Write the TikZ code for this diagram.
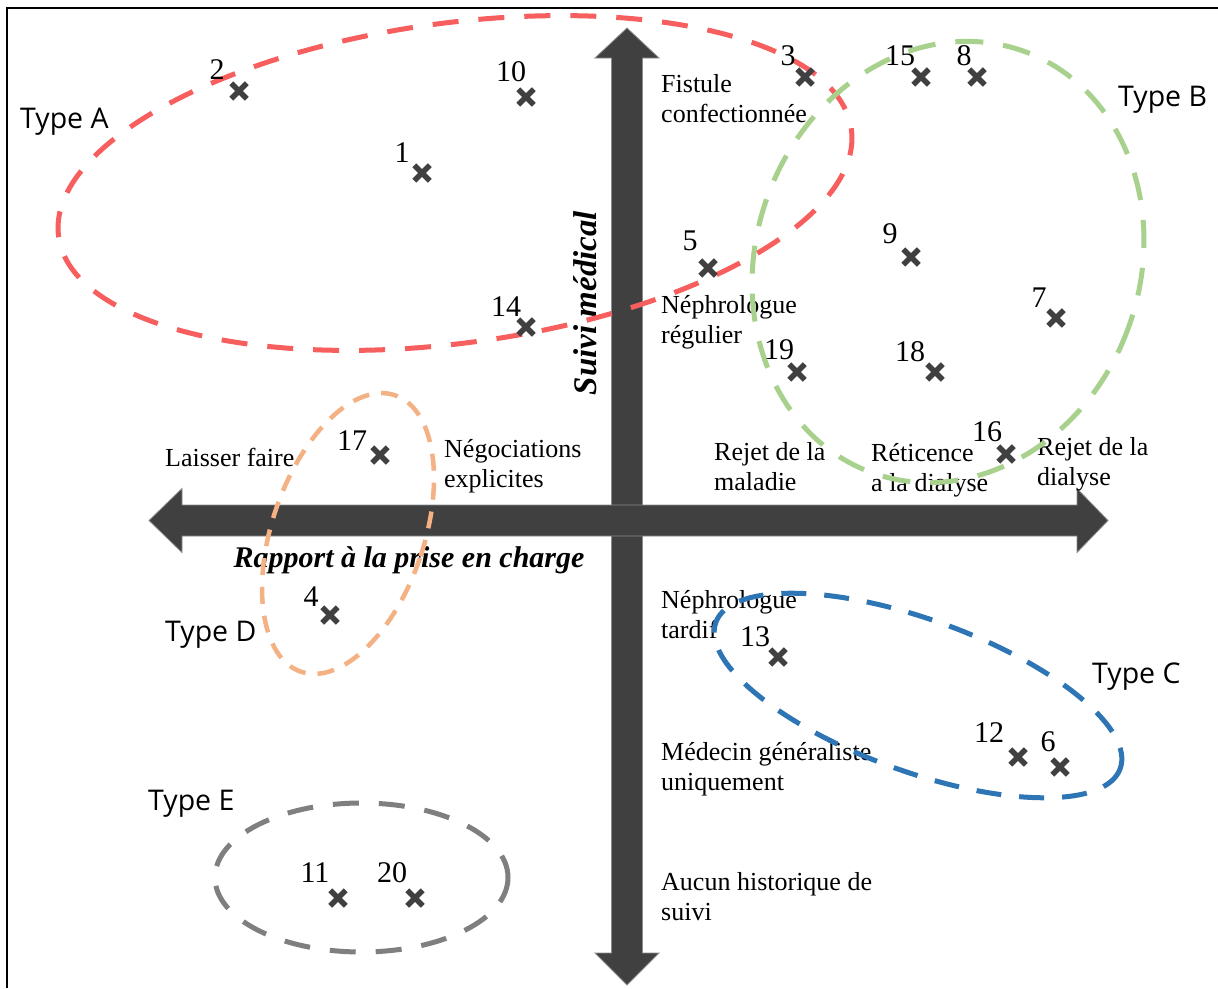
\documentclass[tikz,border=0pt]{standalone}
\usepackage{fontspec}
\setmainfont{Liberation Serif}
\newfontfamily\typefont{Open Sans}
\usetikzlibrary{shapes.misc}
\definecolor{axisgray}{HTML}{404040}
\definecolor{axisedge}{HTML}{8C8C8C}
\definecolor{redA}{HTML}{F75F5F}
\definecolor{greenB}{HTML}{A9D18E}
\definecolor{blueC}{HTML}{2E75B6}
\definecolor{orangeD}{HTML}{F4B183}
\definecolor{grayE}{HTML}{7F7F7F}
\begin{document}
\begin{tikzpicture}[x=1pt,y=-1pt,
 ptmark/.style={cross out, draw=axisgray, line width=5.5pt, minimum size=10pt, inner sep=0pt},
 num/.style={font=\fontsize{30}{36}\selectfont, inner sep=0pt},
 lbl/.style={font=\fontsize{26}{30.5}\selectfont, align=left, anchor=north west, inner sep=0pt},
 typ/.style={font=\typefont\fontsize{28.5}{34}\selectfont, anchor=north west, inner sep=0pt},
 axlbl/.style={font=\bfseries\itshape\fontsize{30}{36}\selectfont, inner sep=0pt},
 grp/.style={line width=5pt, dash pattern=on 26pt off 20pt},
 axisshape/.style={fill=axisgray, draw=axisedge, line width=0.8pt}]
\useasboundingbox (0,0) rectangle (1218,988);
\fill[white] (0,0) rectangle (1218,988);
% frame
\draw[line width=2.5pt] (7,988) -- (7,8) -- (1218,8);
% axes
\coordinate (vtop) at (627,28);
\coordinate (vbot) at (627,985);
\coordinate (hleft) at (149,520.5);
\coordinate (hright) at (1108,520.5);
\draw[axisshape] (vtop) -- (659,58) -- (642.5,58) -- (642.5,953) -- (659,953) -- (vbot)
  -- (595,953) -- (611.5,953) -- (611.5,58) -- (595,58) -- cycle;
\draw[axisshape] (hleft) -- (182,488.5) -- (182,505) -- (1077,505) -- (1077,488.5) -- (hright)
  -- (1077,552.5) -- (1077,536) -- (182,536) -- (182,552.5) -- cycle;
% axis labels
\node[axlbl, rotate=90, font=\bfseries\itshape\fontsize{33}{38}\selectfont] (suivi) at (585,303) {Suivi médical};
\node[axlbl, anchor=base] (rapport) at (409,567) {Rapport à la prise en charge};
% text labels
\node[lbl] (fist) at (661,74) {Fistule\\confectionnée};
\node[lbl] (nreg) at (661,295) {Néphrologue\\régulier};
\node[lbl] (rmal) at (714,442) {Rejet de la\\maladie};
\node[lbl] (reti) at (871,443) {Réticence\\a la dialyse};
\node[lbl] (rdia) at (1037,437) {Rejet de la\\dialyse};
\node[lbl] (laiss) at (165,448) {Laisser faire};
\node[lbl] (nego) at (444,439) {Négociations\\explicites};
\node[lbl] (ntar) at (661,590) {Néphrologue\\tardif};
\node[lbl] (mgen) at (661,742) {Médecin généraliste\\uniquement};
\node[lbl] (aucun) at (661,872) {Aucun historique de\\suivi};
% type labels
\node[typ] (typeA) at (20,108) {Type A};
\node[typ] (typeB) at (1118,86) {Type B};
\node[typ] (typeC) at (1092,663) {Type C};
\node[typ] (typeD) at (165,621) {Type D};
\node[typ] (typeE) at (148,790) {Type E};
% group ellipses
\draw[grp, redA, rotate around={7.7:(455,183)}] (455,183) ellipse [x radius=400, y radius=160];
\draw[grp, greenB, dash pattern=on 28pt off 20pt, rotate around={-19.8:(948,262)}] (948,262) ellipse [x radius=192, y radius=224];
\draw[grp, blueC, dash pattern=on 25pt off 18pt, rotate around={-19.9:(918,695.5)}] (918,695.5) ellipse [x radius=215, y radius=76];
\draw[grp, orangeD, line width=4.5pt, dash pattern=on 17pt off 12pt, rotate around={-18.8:(348,533.5)}] (348,533.5) ellipse [x radius=76, y radius=146];
\draw[grp, grayE] (361.5,877.5) ellipse [x radius=146.5, y radius=74.5];
% markers
\node[ptmark] (m1) at (422,173) {};
\node[ptmark] (m2) at (239,91) {};
\node[ptmark] (m3) at (805,77) {};
\node[ptmark] (m4) at (330,615) {};
\node[ptmark] (m5) at (708,268) {};
\node[ptmark] (m6) at (1060,767) {};
\node[ptmark] (m7) at (1056,318) {};
\node[ptmark] (m8) at (977,77) {};
\node[ptmark] (m9) at (911,257) {};
\node[ptmark] (m10) at (526,97) {};
\node[ptmark] (m11) at (338,898) {};
\node[ptmark] (m12) at (1018,757) {};
\node[ptmark] (m13) at (778,657) {};
\node[ptmark] (m14) at (526,327) {};
\node[ptmark] (m15) at (921,77) {};
\node[ptmark] (m16) at (1006,454) {};
\node[ptmark] (m17) at (380,455) {};
\node[ptmark] (m18) at (935,372) {};
\node[ptmark] (m19) at (797,372) {};
\node[ptmark] (m20) at (415,898) {};
% numbers
\node[num] (n1) at (402,153) {1};
\node[num] (n2) at (217,70) {2};
\node[num] (n3) at (788,56) {3};
\node[num] (n4) at (311,597) {4};
\node[num] (n5) at (690,241) {5};
\node[num] (n6) at (1048,742) {6};
\node[num] (n7) at (1039,298) {7};
\node[num] (n8) at (964,56) {8};
\node[num] (n9) at (890,234) {9};
\node[num] (n10) at (511,72) {10};
\node[num] (n11) at (315,873) {11};
\node[num] (n12) at (989,733) {12};
\node[num] (n13) at (755,637) {13};
\node[num] (n14) at (506,307) {14};
\node[num] (n15) at (900,56) {15};
\node[num] (n16) at (987,432) {16};
\node[num] (n17) at (352,441) {17};
\node[num] (n18) at (910,352) {18};
\node[num] (n19) at (779,350) {19};
\node[num] (n20) at (392,873) {20};
\end{tikzpicture}
\end{document}
